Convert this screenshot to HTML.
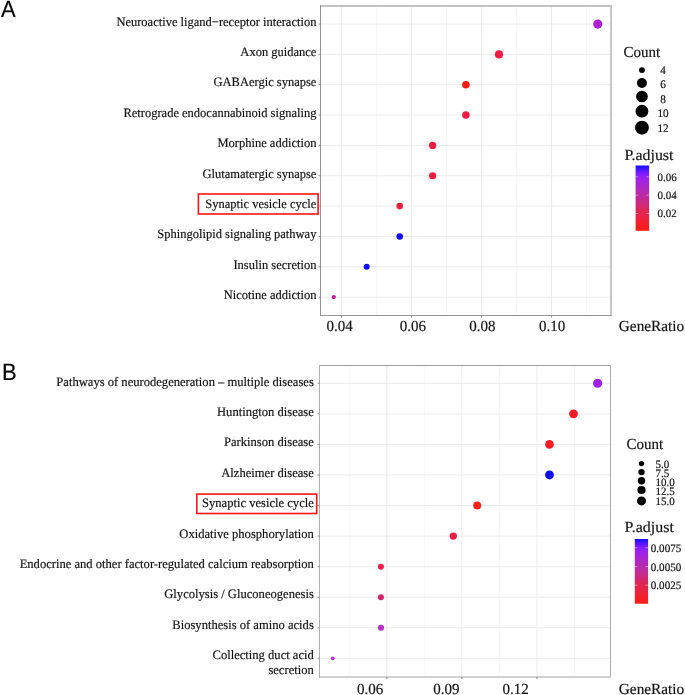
<!DOCTYPE html>
<html><head><meta charset="utf-8"><style>
html,body{margin:0;padding:0;background:#fff;}
body{width:685px;height:695px;overflow:hidden;}
svg{display:block;}
#w{width:685px;height:695px;will-change:transform;}
text{font-family:"Liberation Serif", serif;fill:#141414;text-rendering:geometricPrecision;stroke:#141414;stroke-width:0.18px;}
text.sans{font-family:"Liberation Sans", sans-serif;fill:#000;}
</style></head><body><div id="w">
<svg width="685" height="695" viewBox="0 0 685 695">
<defs><linearGradient id="g" x1="0" y1="1" x2="0" y2="0">
<stop offset="0" stop-color="#ff1a14"/>
<stop offset="0.08" stop-color="#f81e24"/>
<stop offset="0.2" stop-color="#ec2240"/>
<stop offset="0.3" stop-color="#e02650"/>
<stop offset="0.4" stop-color="#d02878"/>
<stop offset="0.5" stop-color="#c02a98"/>
<stop offset="0.6" stop-color="#b42ab4"/>
<stop offset="0.7" stop-color="#aa26d0"/>
<stop offset="0.8" stop-color="#9c22ec"/>
<stop offset="0.88" stop-color="#7a1cff"/>
<stop offset="0.94" stop-color="#4a14ff"/>
<stop offset="1.0" stop-color="#1010ff"/>
</linearGradient></defs>
<rect x="0" y="0" width="685" height="695" fill="#fff"/>

<line x1="376.6" y1="6" x2="376.6" y2="315" stroke="#f7f7f7" stroke-width="1"/>
<line x1="446.6" y1="6" x2="446.6" y2="315" stroke="#f7f7f7" stroke-width="1"/>
<line x1="516.6" y1="6" x2="516.6" y2="315" stroke="#f7f7f7" stroke-width="1"/>
<line x1="586.6" y1="6" x2="586.6" y2="315" stroke="#f7f7f7" stroke-width="1"/>
<line x1="341.6" y1="6" x2="341.6" y2="315" stroke="#ebebeb" stroke-width="1"/>
<line x1="411.6" y1="6" x2="411.6" y2="315" stroke="#ebebeb" stroke-width="1"/>
<line x1="481.6" y1="6" x2="481.6" y2="315" stroke="#ebebeb" stroke-width="1"/>
<line x1="551.6" y1="6" x2="551.6" y2="315" stroke="#ebebeb" stroke-width="1"/>
<line x1="320.5" y1="24.05" x2="611.0" y2="24.05" stroke="#ebebeb" stroke-width="1"/>
<line x1="320.5" y1="54.39" x2="611.0" y2="54.39" stroke="#ebebeb" stroke-width="1"/>
<line x1="320.5" y1="84.73" x2="611.0" y2="84.73" stroke="#ebebeb" stroke-width="1"/>
<line x1="320.5" y1="115.07" x2="611.0" y2="115.07" stroke="#ebebeb" stroke-width="1"/>
<line x1="320.5" y1="145.41" x2="611.0" y2="145.41" stroke="#ebebeb" stroke-width="1"/>
<line x1="320.5" y1="175.75" x2="611.0" y2="175.75" stroke="#ebebeb" stroke-width="1"/>
<line x1="320.5" y1="206.09" x2="611.0" y2="206.09" stroke="#ebebeb" stroke-width="1"/>
<line x1="320.5" y1="236.43" x2="611.0" y2="236.43" stroke="#ebebeb" stroke-width="1"/>
<line x1="320.5" y1="266.77" x2="611.0" y2="266.77" stroke="#ebebeb" stroke-width="1"/>
<line x1="320.5" y1="297.11" x2="611.0" y2="297.11" stroke="#ebebeb" stroke-width="1"/>
<rect x="320" y="5" width="1" height="311" fill="#939393"/>
<rect x="320" y="315" width="292" height="1" fill="#959595"/>
<rect x="321" y="5" width="291" height="2" fill="#c2c2c2"/>
<rect x="610" y="7" width="2" height="308" fill="#c8c8c8"/>
<line x1="318.5" y1="24.05" x2="320.5" y2="24.05" stroke="#8a8a8a" stroke-width="1"/>
<line x1="318.5" y1="54.39" x2="320.5" y2="54.39" stroke="#8a8a8a" stroke-width="1"/>
<line x1="318.5" y1="84.73" x2="320.5" y2="84.73" stroke="#8a8a8a" stroke-width="1"/>
<line x1="318.5" y1="115.07" x2="320.5" y2="115.07" stroke="#8a8a8a" stroke-width="1"/>
<line x1="318.5" y1="145.41" x2="320.5" y2="145.41" stroke="#8a8a8a" stroke-width="1"/>
<line x1="318.5" y1="175.75" x2="320.5" y2="175.75" stroke="#8a8a8a" stroke-width="1"/>
<line x1="318.5" y1="206.09" x2="320.5" y2="206.09" stroke="#8a8a8a" stroke-width="1"/>
<line x1="318.5" y1="236.43" x2="320.5" y2="236.43" stroke="#8a8a8a" stroke-width="1"/>
<line x1="318.5" y1="266.77" x2="320.5" y2="266.77" stroke="#8a8a8a" stroke-width="1"/>
<line x1="318.5" y1="297.11" x2="320.5" y2="297.11" stroke="#8a8a8a" stroke-width="1"/>
<line x1="341.6" y1="315.5" x2="341.6" y2="317.5" stroke="#8a8a8a" stroke-width="1"/>
<line x1="411.6" y1="315.5" x2="411.6" y2="317.5" stroke="#8a8a8a" stroke-width="1"/>
<line x1="481.6" y1="315.5" x2="481.6" y2="317.5" stroke="#8a8a8a" stroke-width="1"/>
<line x1="551.6" y1="315.5" x2="551.6" y2="317.5" stroke="#8a8a8a" stroke-width="1"/>
<text transform="translate(316.40,25.70) scale(1,1.03)" font-size="12.5" text-anchor="end">Neuroactive ligand−receptor interaction</text>
<text transform="translate(316.40,56.08) scale(1,1.03)" font-size="12.5" text-anchor="end">Axon guidance</text>
<text transform="translate(316.40,86.46) scale(1,1.03)" font-size="12.5" text-anchor="end">GABAergic synapse</text>
<text transform="translate(316.40,116.84) scale(1,1.03)" font-size="12.5" text-anchor="end">Retrograde endocannabinoid signaling</text>
<text transform="translate(316.40,147.22) scale(1,1.03)" font-size="12.5" text-anchor="end">Morphine addiction</text>
<text transform="translate(316.40,177.60) scale(1,1.03)" font-size="12.5" text-anchor="end">Glutamatergic synapse</text>
<text transform="translate(316.40,207.98) scale(1,1.03)" font-size="12.5" text-anchor="end">Synaptic vesicle cycle</text>
<text transform="translate(316.40,238.36) scale(1,1.03)" font-size="12.5" text-anchor="end">Sphingolipid signaling pathway</text>
<text transform="translate(316.40,268.74) scale(1,1.03)" font-size="12.5" text-anchor="end">Insulin secretion</text>
<text transform="translate(316.40,299.12) scale(1,1.03)" font-size="12.5" text-anchor="end">Nicotine addiction</text>
<text transform="translate(339.50,330.80) scale(1,1.03)" font-size="15" text-anchor="middle">0.04</text>
<text transform="translate(412.90,330.80) scale(1,1.03)" font-size="15" text-anchor="middle">0.06</text>
<text transform="translate(482.30,330.80) scale(1,1.03)" font-size="15" text-anchor="middle">0.08</text>
<text transform="translate(552.00,330.80) scale(1,1.03)" font-size="15" text-anchor="middle">0.10</text>
<text transform="translate(618.80,330.80) scale(1.02,1.03)" font-size="15">GeneRatio</text>
<circle cx="597.8" cy="24.05" r="4.6" fill="#b020d0"/>
<circle cx="499.0" cy="54.39" r="4.05" fill="#ee1e44"/>
<circle cx="465.9" cy="84.73" r="3.8" fill="#ff1c0c"/>
<circle cx="465.9" cy="115.07" r="3.8" fill="#ee1c44"/>
<circle cx="432.6" cy="145.41" r="3.6" fill="#ee1c40"/>
<circle cx="432.6" cy="175.75" r="3.6" fill="#ee1c40"/>
<circle cx="399.7" cy="206.09" r="3.3" fill="#ee1e3c"/>
<circle cx="399.7" cy="236.43" r="3.3" fill="#1010ff"/>
<circle cx="366.7" cy="266.77" r="3.0" fill="#0c0cff"/>
<circle cx="333.8" cy="297.11" r="2.1" fill="#c41aa4"/>
<rect x="198.4" y="194.0" width="119.70" height="20.00" fill="none" stroke="#ff1414" stroke-width="1.6"/>
<line x1="349.3" y1="365.5" x2="349.3" y2="676.5" stroke="#f7f7f7" stroke-width="1"/>
<line x1="424.3" y1="365.5" x2="424.3" y2="676.5" stroke="#f7f7f7" stroke-width="1"/>
<line x1="499.4" y1="365.5" x2="499.4" y2="676.5" stroke="#f7f7f7" stroke-width="1"/>
<line x1="574.5" y1="365.5" x2="574.5" y2="676.5" stroke="#f7f7f7" stroke-width="1"/>
<line x1="386.8" y1="365.5" x2="386.8" y2="676.5" stroke="#ebebeb" stroke-width="1"/>
<line x1="461.8" y1="365.5" x2="461.8" y2="676.5" stroke="#ebebeb" stroke-width="1"/>
<line x1="537.0" y1="365.5" x2="537.0" y2="676.5" stroke="#ebebeb" stroke-width="1"/>
<line x1="319.5" y1="383.30" x2="610.5" y2="383.30" stroke="#ebebeb" stroke-width="1"/>
<line x1="319.5" y1="413.86" x2="610.5" y2="413.86" stroke="#ebebeb" stroke-width="1"/>
<line x1="319.5" y1="444.42" x2="610.5" y2="444.42" stroke="#ebebeb" stroke-width="1"/>
<line x1="319.5" y1="474.98" x2="610.5" y2="474.98" stroke="#ebebeb" stroke-width="1"/>
<line x1="319.5" y1="505.54" x2="610.5" y2="505.54" stroke="#ebebeb" stroke-width="1"/>
<line x1="319.5" y1="536.10" x2="610.5" y2="536.10" stroke="#ebebeb" stroke-width="1"/>
<line x1="319.5" y1="566.66" x2="610.5" y2="566.66" stroke="#ebebeb" stroke-width="1"/>
<line x1="319.5" y1="597.22" x2="610.5" y2="597.22" stroke="#ebebeb" stroke-width="1"/>
<line x1="319.5" y1="627.78" x2="610.5" y2="627.78" stroke="#ebebeb" stroke-width="1"/>
<line x1="319.5" y1="658.34" x2="610.5" y2="658.34" stroke="#ebebeb" stroke-width="1"/>
<rect x="319" y="365" width="1" height="313" fill="#b0b0b0"/>
<rect x="320" y="676" width="291" height="2" fill="#d0d0d0"/>
<rect x="320" y="365" width="291" height="1" fill="#9c9c9c"/>
<rect x="610" y="366" width="1" height="310" fill="#ababab"/>
<line x1="317.5" y1="383.30" x2="319.5" y2="383.30" stroke="#8a8a8a" stroke-width="1"/>
<line x1="317.5" y1="413.86" x2="319.5" y2="413.86" stroke="#8a8a8a" stroke-width="1"/>
<line x1="317.5" y1="444.42" x2="319.5" y2="444.42" stroke="#8a8a8a" stroke-width="1"/>
<line x1="317.5" y1="474.98" x2="319.5" y2="474.98" stroke="#8a8a8a" stroke-width="1"/>
<line x1="317.5" y1="505.54" x2="319.5" y2="505.54" stroke="#8a8a8a" stroke-width="1"/>
<line x1="317.5" y1="536.10" x2="319.5" y2="536.10" stroke="#8a8a8a" stroke-width="1"/>
<line x1="317.5" y1="566.66" x2="319.5" y2="566.66" stroke="#8a8a8a" stroke-width="1"/>
<line x1="317.5" y1="597.22" x2="319.5" y2="597.22" stroke="#8a8a8a" stroke-width="1"/>
<line x1="317.5" y1="627.78" x2="319.5" y2="627.78" stroke="#8a8a8a" stroke-width="1"/>
<line x1="317.5" y1="658.34" x2="319.5" y2="658.34" stroke="#8a8a8a" stroke-width="1"/>
<line x1="386.8" y1="677.0" x2="386.8" y2="679.0" stroke="#8a8a8a" stroke-width="1"/>
<line x1="461.8" y1="677.0" x2="461.8" y2="679.0" stroke="#8a8a8a" stroke-width="1"/>
<line x1="537.0" y1="677.0" x2="537.0" y2="679.0" stroke="#8a8a8a" stroke-width="1"/>
<text transform="translate(313.80,385.50) scale(1,1.03)" font-size="12.58" text-anchor="end">Pathways of neurodegeneration – multiple diseases</text>
<text transform="translate(313.80,415.93) scale(1,1.03)" font-size="12.58" text-anchor="end">Huntington disease</text>
<text transform="translate(313.80,446.35) scale(1,1.03)" font-size="12.58" text-anchor="end">Parkinson disease</text>
<text transform="translate(313.80,476.77) scale(1,1.03)" font-size="12.58" text-anchor="end">Alzheimer disease</text>
<text transform="translate(313.80,507.20) scale(1,1.03)" font-size="12.58" text-anchor="end">Synaptic vesicle cycle</text>
<text transform="translate(313.80,537.62) scale(1,1.03)" font-size="12.58" text-anchor="end">Oxidative phosphorylation</text>
<text transform="translate(313.80,568.05) scale(1,1.03)" font-size="12.58" text-anchor="end">Endocrine and other factor-regulated calcium reabsorption</text>
<text transform="translate(313.80,598.48) scale(1,1.03)" font-size="12.58" text-anchor="end">Glycolysis / Gluconeogenesis</text>
<text transform="translate(313.80,628.90) scale(1,1.03)" font-size="12.58" text-anchor="end">Biosynthesis of amino acids</text>
<text transform="translate(313.80,658.90) scale(1,1.03)" font-size="12.58" text-anchor="end">Collecting duct acid</text>
<text transform="translate(313.80,674.00) scale(1,1.03)" font-size="12.58" text-anchor="end">secretion</text>
<text transform="translate(370.20,693.80) scale(1,1.03)" font-size="15" text-anchor="middle">0.06</text>
<text transform="translate(446.30,693.80) scale(1,1.03)" font-size="15" text-anchor="middle">0.09</text>
<text transform="translate(515.60,693.80) scale(1,1.03)" font-size="15" text-anchor="middle">0.12</text>
<text transform="translate(618.80,694.20) scale(1.02,1.03)" font-size="15">GeneRatio</text>
<circle cx="597.6" cy="383.30" r="4.55" fill="#a020e8"/>
<circle cx="573.5" cy="413.86" r="4.45" fill="#ff1a24"/>
<circle cx="549.5" cy="444.42" r="4.35" fill="#ff1a24"/>
<circle cx="549.5" cy="474.98" r="4.4" fill="#0a0aff"/>
<circle cx="477.2" cy="505.54" r="3.95" fill="#ff1e14"/>
<circle cx="453.3" cy="536.10" r="3.7" fill="#ee1e44"/>
<circle cx="380.9" cy="566.66" r="3.0" fill="#ee1e48"/>
<circle cx="380.9" cy="597.22" r="3.0" fill="#d82070"/>
<circle cx="381.0" cy="627.78" r="3.05" fill="#b82ccc"/>
<circle cx="332.8" cy="658.34" r="1.9" fill="#b030c8"/>
<rect x="196.8" y="494.1" width="119.90" height="19.40" fill="none" stroke="#ff1414" stroke-width="1.6"/>
<text class="sans" transform="translate(1.0,16.8) scale(1,1.075)" font-size="22">A</text>
<text class="sans" transform="translate(2.0,380.0) scale(1,1.075)" font-size="22">B</text>
<text transform="translate(623.60,56.70) scale(1,1.03)" font-size="15">Count</text>
<circle cx="641.95" cy="70.1" r="2.96" fill="#000"/>
<circle cx="641.95" cy="83.0" r="4.98" fill="#000"/>
<circle cx="641.95" cy="96.5" r="5.85" fill="#000"/>
<circle cx="641.95" cy="111.2" r="6.37" fill="#000"/>
<circle cx="641.95" cy="127.7" r="6.93" fill="#000"/>
<text transform="translate(663.00,73.70) scale(1,1.03)" font-size="11.2" text-anchor="middle">4</text>
<text transform="translate(663.00,88.20) scale(1,1.03)" font-size="11.2" text-anchor="middle">6</text>
<text transform="translate(663.00,102.80) scale(1,1.03)" font-size="11.2" text-anchor="middle">8</text>
<text transform="translate(663.00,117.20) scale(1,1.03)" font-size="11.2" text-anchor="middle">10</text>
<text transform="translate(663.00,131.60) scale(1,1.03)" font-size="11.2" text-anchor="middle">12</text>
<text transform="translate(624.40,160.30) scale(1.06,1.03)" font-size="15">P.adjust</text>
<rect x="635.6" y="165.5" width="13.5" height="65.3" fill="url(#g)"/>
<line x1="635.6" y1="176.8" x2="638.2" y2="176.8" stroke="#fff" stroke-opacity="0.55" stroke-width="0.8"/>
<line x1="646.5" y1="176.8" x2="649.1" y2="176.8" stroke="#fff" stroke-opacity="0.55" stroke-width="0.8"/>
<text transform="translate(657.60,180.70) scale(1,1.03)" font-size="11">0.06</text>
<line x1="635.6" y1="195.2" x2="638.2" y2="195.2" stroke="#fff" stroke-opacity="0.55" stroke-width="0.8"/>
<line x1="646.5" y1="195.2" x2="649.1" y2="195.2" stroke="#fff" stroke-opacity="0.55" stroke-width="0.8"/>
<text transform="translate(657.60,199.10) scale(1,1.03)" font-size="11">0.04</text>
<line x1="635.6" y1="213.5" x2="638.2" y2="213.5" stroke="#fff" stroke-opacity="0.55" stroke-width="0.8"/>
<line x1="646.5" y1="213.5" x2="649.1" y2="213.5" stroke="#fff" stroke-opacity="0.55" stroke-width="0.8"/>
<text transform="translate(657.60,217.40) scale(1,1.03)" font-size="11">0.02</text>
<text transform="translate(626.60,449.20) scale(1,1.03)" font-size="15">Count</text>
<circle cx="641.5" cy="463.6" r="2.68" fill="#000"/>
<circle cx="641.5" cy="472.1" r="3.2" fill="#000"/>
<circle cx="641.5" cy="480.8" r="3.7" fill="#000"/>
<circle cx="641.5" cy="490.0" r="4.1" fill="#000"/>
<circle cx="641.5" cy="500.9" r="4.5" fill="#000"/>
<text transform="translate(655.60,467.70) scale(1,1.03)" font-size="11">5.0</text>
<text transform="translate(655.60,476.60) scale(1,1.03)" font-size="11">7.5</text>
<text transform="translate(655.60,485.70) scale(1,1.03)" font-size="11">10.0</text>
<text transform="translate(655.60,494.70) scale(1,1.03)" font-size="11">12.5</text>
<text transform="translate(655.60,504.80) scale(1,1.03)" font-size="11">15.0</text>
<text transform="translate(624.60,532.30) scale(1.065,1.03)" font-size="15">P.adjust</text>
<rect x="634.8" y="539.0" width="13.3" height="64.7" fill="url(#g)"/>
<line x1="634.8" y1="547.8" x2="637.5" y2="547.8" stroke="#fff" stroke-opacity="0.55" stroke-width="0.8"/>
<line x1="645.4" y1="547.8" x2="648.1" y2="547.8" stroke="#fff" stroke-opacity="0.55" stroke-width="0.8"/>
<text transform="translate(650.80,551.70) scale(1,1.03)" font-size="11.1">0.0075</text>
<line x1="634.8" y1="566.6" x2="637.5" y2="566.6" stroke="#fff" stroke-opacity="0.55" stroke-width="0.8"/>
<line x1="645.4" y1="566.6" x2="648.1" y2="566.6" stroke="#fff" stroke-opacity="0.55" stroke-width="0.8"/>
<text transform="translate(650.80,570.50) scale(1,1.03)" font-size="11.1">0.0050</text>
<line x1="634.8" y1="585.2" x2="637.5" y2="585.2" stroke="#fff" stroke-opacity="0.55" stroke-width="0.8"/>
<line x1="645.4" y1="585.2" x2="648.1" y2="585.2" stroke="#fff" stroke-opacity="0.55" stroke-width="0.8"/>
<text transform="translate(650.80,589.10) scale(1,1.03)" font-size="11.1">0.0025</text>
</svg></div></body></html>
